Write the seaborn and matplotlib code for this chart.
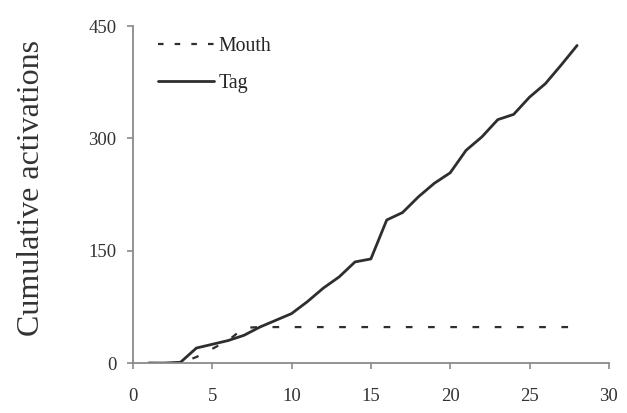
import matplotlib
matplotlib.use("Agg")
import matplotlib.pyplot as plt
import seaborn as sns
import pandas as pd

# Daily cumulative activation counts
days = list(range(1, 29))
mouth = [0, 0, 0, 8, 19, 30, 47, 48, 48, 48, 48, 48, 48, 48,
         48, 48, 48, 48, 48, 48, 48, 48, 48, 48, 48, 48, 48, 48]
tag = [0, 0, 1, 20, 25, 30, 37, 48, 57, 66, 82, 100, 115, 135,
       139, 191, 201, 222, 240, 254, 284, 302, 325, 332, 355, 373, 398, 424]

x_ticks = [0, 5, 10, 15, 20, 25, 30]
y_ticks = [0, 150, 300, 450]

sns.set_theme(style="ticks")
plt.rcParams["font.family"] = ["Liberation Serif", "DejaVu Serif"]

df = pd.DataFrame({"day": days * 2,
                   "count": mouth + tag,
                   "sensor": ["Mouth"] * len(days) + ["Tag"] * len(days)})

fig = plt.figure(figsize=(6.27, 4.13), dpi=100)
ax = fig.add_axes([0.212, 0.121, 0.759, 0.816])

line_col = "#2e2e2e"
sns.lineplot(data=df[df.sensor == "Mouth"], x="day", y="count", ax=ax,
             color=line_col, linewidth=1.6, label="Mouth")
sns.lineplot(data=df[df.sensor == "Tag"], x="day", y="count", ax=ax,
             color=line_col, linewidth=2.0, label="Tag")
ax.lines[0].set_dashes([3, 7])

ax.set_xlim(0, 30)
ax.set_ylim(0, 450)
ax.set_xticks(x_ticks)
ax.set_yticks(y_ticks)
ax.set_xlabel("")
ax.set_ylabel("Cumulative activations", fontsize=23, color="#333333")
ax.yaxis.set_label_coords(-0.182, 0.52)

for side in ("top", "right"):
    ax.spines[side].set_visible(False)
for side in ("left", "bottom"):
    ax.spines[side].set_color("#8a8a8a")
    ax.spines[side].set_linewidth(1.3)
ax.tick_params(axis="both", direction="out", length=4, width=1.2,
               color="#8a8a8a", labelsize=13.5, labelcolor="#333333")
ax.tick_params(axis="x", pad=14)
ax.tick_params(axis="y", pad=8)

leg = ax.legend(loc="upper left", frameon=False, fontsize=14.3,
                handlelength=2.8, handletextpad=0.25, labelspacing=0.9,
                bbox_to_anchor=(0.015, 1.02))
leg.get_lines()[0].set_dashes([2.5, 5])

fig.savefig("out.png", dpi=100, facecolor="white")
